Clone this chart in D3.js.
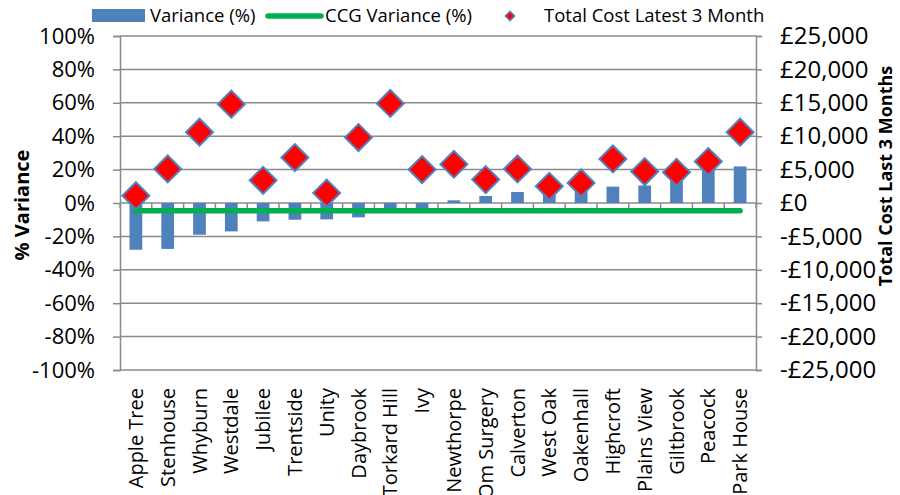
<!DOCTYPE html>
<html>
<head>
<meta charset="utf-8">
<script src="https://cdn.jsdelivr.net/npm/d3@7"></script>
<style>
  html, body { margin: 0; padding: 0; background: #fff; }
  svg { display: block; font-family: "Open Sans", "Noto Sans", sans-serif; }
</style>
</head>
<body>
<svg id="chart" width="900" height="495"></svg>
<script>
// Practices, in display order
const practices = ["Apple Tree", "Stenhouse", "Whyburn", "Westdale", "Jubilee", "Trentside",
  "Unity", "Daybrook", "Torkard Hill", "Ivy", "Newthorpe", "Om Surgery", "Calverton",
  "West Oak", "Oakenhall", "Highcroft", "Plains View", "Giltbrook", "Peacock", "Park House"];

// Practice variance (%)
const variancePct = [-28, -27.5, -19, -17, -11, -10, -9.8, -8.6, -5.5, -4,
  1.6, 4.2, 6.6, 7, 8, 9.8, 10.5, 15, 21, 21.9];

// CCG-wide variance (%)
const ccgVariancePct = -4.7;

// Total cost for the latest 3 months (£)
const totalCost3m = [1100, 5100, 10600, 14800, 3400, 6800, 1500, 9800, 14900, 5000,
  5800, 3500, 5100, 2500, 3000, 6600, 4700, 4600, 6200, 10600];

// Axis ticks
const pctTicks = [-100, -80, -60, -40, -20, 0, 20, 40, 60, 80, 100];
const costTicks = [-25000, -20000, -15000, -10000, -5000, 0, 5000, 10000, 15000, 20000, 25000];

const svg = d3.select("#chart");
const plotLeft = 120, plotRight = 756, plotTop = 36, plotBottom = 370;
const gridColor = "#8a8a8a";
const barColor = "#4f81bd";
const lineColor = "#00b050";

const x = d3.scaleBand().domain(practices).range([plotLeft, plotRight]);
const yL = d3.scaleLinear().domain([-100, 100]).range([plotBottom, plotTop]);
const yR = d3.scaleLinear().domain([-25000, 25000]).range([plotBottom, plotTop]);

// Horizontal gridlines
svg.append("g").selectAll("line").data(pctTicks).join("line")
  .attr("x1", plotLeft).attr("x2", plotRight)
  .attr("y1", d => yL(d)).attr("y2", d => yL(d))
  .attr("stroke", gridColor).attr("stroke-width", 1.5);

// Left axis (% variance)
const axL = svg.append("g").attr("transform", `translate(${plotLeft},0)`)
  .call(d3.axisLeft(yL).tickValues(pctTicks).tickSize(7).tickPadding(18)
    .tickFormat(d => d + "%"));
axL.select(".domain").attr("stroke", gridColor).attr("stroke-width", 1.5);
axL.selectAll(".tick line").attr("stroke", gridColor).attr("stroke-width", 1.5);
axL.selectAll("text").attr("font-size", 22).attr("fill", "#000")
  .attr("font-family", "Open Sans");

// Right axis (total cost)
const fmt = d3.format(",");
const axR = svg.append("g").attr("transform", `translate(${plotRight},0)`)
  .call(d3.axisRight(yR).tickValues(costTicks).tickSize(6).tickPadding(18)
    .tickFormat(d => (d < 0 ? "-£" : "£") + fmt(Math.abs(d))));
axR.select(".domain").attr("stroke", gridColor).attr("stroke-width", 1.5);
axR.selectAll(".tick line").attr("stroke", gridColor).attr("stroke-width", 1.5);
axR.selectAll("text").attr("font-size", 24).attr("fill", "#000")
  .attr("font-family", "Open Sans");

// Category axis crossing at zero, ticks between practices
const zeroY = yL(0);
const bounds = practices.map(p => x(p)).concat([plotRight]);
svg.append("g").selectAll("line").data(bounds).join("line")
  .attr("x1", d => d).attr("x2", d => d)
  .attr("y1", zeroY).attr("y2", zeroY + 5)
  .attr("stroke", gridColor).attr("stroke-width", 1.5);

// Variance bars
const barW = x.bandwidth() * 0.4;
svg.append("g").selectAll("rect").data(practices).join("rect")
  .attr("x", p => x(p) + (x.bandwidth() - barW) / 2)
  .attr("width", barW)
  .attr("y", (p, i) => Math.min(yL(variancePct[i]), zeroY))
  .attr("height", (p, i) => Math.abs(yL(variancePct[i]) - zeroY))
  .attr("fill", barColor);

// CCG variance line
const cx = p => x(p) + x.bandwidth() / 2;
svg.append("path")
  .datum(practices)
  .attr("d", d3.line().x(cx).y(() => yL(ccgVariancePct)))
  .attr("fill", "none").attr("stroke", lineColor)
  .attr("stroke-width", 5.5).attr("stroke-linecap", "round");

// Total cost markers
const diamond = d3.symbol().type(d3.symbolSquare).size(19 * 19);
svg.append("g").selectAll("path").data(practices).join("path")
  .attr("d", diamond)
  .attr("transform", (p, i) => `translate(${cx(p)},${yR(totalCost3m[i])}) rotate(45)`)
  .attr("fill", "#ff0000").attr("stroke", barColor).attr("stroke-width", 2);

// Category labels
svg.append("g").selectAll("text").data(practices).join("text")
  .attr("transform", p => `translate(${cx(p)},388) rotate(-90)`)
  .attr("text-anchor", "end").attr("dy", "0.35em")
  .attr("font-size", 20).attr("fill", "#000")
  .text(p => p);

// Axis titles
svg.append("text")
  .attr("transform", "translate(22,205) rotate(-90)")
  .attr("text-anchor", "middle").attr("dy", "0.35em")
  .attr("font-size", 20).attr("font-weight", "bold")
  .text("% Variance");
svg.append("text")
  .attr("transform", "translate(886,176) rotate(-90)")
  .attr("text-anchor", "middle").attr("dy", "0.35em")
  .attr("font-size", 18).attr("font-weight", "bold")
  .text("Total Cost Last 3 Months");

// Legend
const lg = svg.append("g").attr("font-size", 18.5);
lg.append("rect").attr("x", 92).attr("y", 9).attr("width", 53).attr("height", 13).attr("fill", barColor);
lg.append("text").attr("x", 150).attr("y", 16).attr("dy", "0.35em").text("Variance (%)");
lg.append("line").attr("x1", 268).attr("x2", 321).attr("y1", 16).attr("y2", 16)
  .attr("stroke", lineColor).attr("stroke-width", 5.5).attr("stroke-linecap", "round");
lg.append("text").attr("x", 325).attr("y", 16).attr("dy", "0.35em").text("CCG Variance (%)");
lg.append("path").attr("d", d3.symbol().type(d3.symbolSquare).size(42))
  .attr("transform", "translate(510,16) rotate(45)")
  .attr("fill", "#ff0000").attr("stroke", barColor).attr("stroke-width", 1.5);
lg.append("text").attr("x", 544).attr("y", 16).attr("dy", "0.35em").text("Total Cost Latest 3 Month");
</script>
</body>
</html>
